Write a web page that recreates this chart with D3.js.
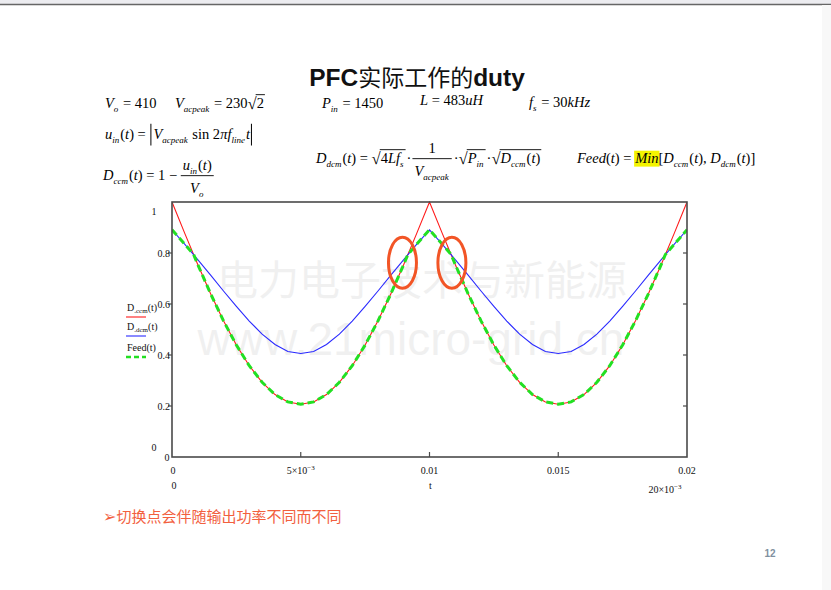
<!DOCTYPE html>
<html><head><meta charset="utf-8">
<script src="https://cdn.jsdelivr.net/npm/d3@7"></script>
<style>
html,body{margin:0;padding:0;background:#fff;}
svg{display:block;}
text{white-space:pre;}
</style></head>
<body>
<svg id="c" width="831" height="590"></svg>
<script>
// ---------- data ----------
const tSamples = [0,0.0005,0.001,0.0015,0.002,0.0025,0.003,0.0035,0.004,0.0045,0.005,0.0055,0.006,0.0065,0.007,0.0075,0.008,0.0085,0.009,0.0095,0.01,
  0.0105,0.011,0.0115,0.012,0.0125,0.013,0.0135,0.014,0.0145,0.015,0.0155,0.016,0.0165,0.017,0.0175,0.018,0.0185,0.019,0.0195,0.02];
const dccmValues = [1.000,0.876,0.755,0.640,0.534,0.439,0.358,0.293,0.245,0.216,0.207,0.216,0.245,0.293,0.358,0.439,0.534,0.640,0.755,0.876,1.000,
  0.876,0.755,0.640,0.534,0.439,0.358,0.293,0.245,0.216,0.207,0.216,0.245,0.293,0.358,0.439,0.534,0.640,0.755,0.876,1.000];
const ddcmValues = [0.891,0.834,0.774,0.713,0.651,0.591,0.533,0.482,0.441,0.414,0.406,0.414,0.441,0.482,0.533,0.591,0.651,0.713,0.774,0.834,0.891,
  0.834,0.774,0.713,0.651,0.591,0.533,0.482,0.441,0.414,0.406,0.414,0.441,0.482,0.533,0.591,0.651,0.713,0.774,0.834,0.891];
const feedT = [0,0.0005,0.00084,0.001,0.0015,0.002,0.0025,0.003,0.0035,0.004,0.0045,0.005,0.0055,0.006,0.0065,0.007,0.0075,0.008,0.0085,0.009,0.00916,0.0095,0.01,
  0.0105,0.01084,0.011,0.0115,0.012,0.0125,0.013,0.0135,0.014,0.0145,0.015,0.0155,0.016,0.0165,0.017,0.0175,0.018,0.0185,0.019,0.01916,0.0195,0.02];
const feedValues = [0.891,0.834,0.794,0.755,0.640,0.534,0.439,0.358,0.293,0.245,0.216,0.207,0.216,0.245,0.293,0.358,0.439,0.534,0.640,0.755,0.794,0.834,0.891,
  0.834,0.794,0.755,0.640,0.534,0.439,0.358,0.293,0.245,0.216,0.207,0.216,0.245,0.293,0.358,0.439,0.534,0.640,0.755,0.794,0.834,0.891];
const xTicks = [0.005,0.01,0.015];
const xTickLabels = [["0",0],["5×10","-3",0.005],["0.01",0.01],["0.015",0.015],["0.02",0.02]];
const yTicks = [0.2,0.4,0.6,0.8];
const yTickLabels = ["0.2","0.4","0.6","0.8"];
const highlightT = [0.00895,0.01087];
const highlightV = 0.762;
const legendNames = [["D","ccm"],["D","dcm"],["Feed",""]];
const seriesColors = ["#ff1a1a","#2a2aff","#22e022"];

// ---------- setup ----------
const svg = d3.select("#c");
const SERIF = "'Liberation Serif','Times New Roman',serif";
const SANS = "'Liberation Sans',Arial,sans-serif";
const CJK = "'Noto Sans CJK SC','Noto Sans',sans-serif";

svg.append("rect").attr("x",0).attr("y",0).attr("width",831).attr("height",590).attr("fill","#fff");
svg.append("rect").attr("x",0).attr("y",0).attr("width",831).attr("height",4).attr("fill","#ececf0");
svg.append("line").attr("x1",0).attr("x2",831).attr("y1",4.5).attr("y2",4.5).attr("stroke","#666").attr("stroke-width",1.3);
svg.append("rect").attr("x",822).attr("y",5).attr("width",9).attr("height",585).attr("fill","#f8f8f8");

// Title
const title = svg.append("text").attr("x",417).attr("y",86).attr("text-anchor","middle")
  .attr("font-size",24.5).attr("font-weight","bold").attr("font-family",SANS).attr("fill","#111");
title.append("tspan").text("PFC");
title.append("tspan").attr("font-family",CJK).attr("font-weight","normal").attr("font-size",23).text("实际工作的");
title.append("tspan").text("duty");

// ---------- math layout helper ----------
function T(s, o){ return Object.assign({type:"t", s:s}, o||{}); }
const I = s => T(s,{it:true});
const N = s => T(s,{});
const S = s => T(s,{it:true, sub:true});
const SP = w => ({type:"sp", w:w});
function layout(g, x, y, items, size){
  let cx = x;
  for (const it of items){
    if (it.type==="t"){
      const fs = it.sub ? size*0.62 : size;
      const dy = it.sub ? size*0.3 : 0;
      const el = g.append("text").attr("x",cx).attr("y",y+dy).attr("font-size",fs)
        .attr("font-family",SERIF).attr("font-style",it.it?"italic":"normal").attr("fill","#000").text(it.s);
      const w = el.node().getComputedTextLength();
      if (it.hl){
        g.insert("rect",()=>el.node()).attr("x",cx-1).attr("y",y-size*0.85).attr("width",w+2).attr("height",size*1.1).attr("fill","#f4f400");
      }
      cx += w + (it.sub?1:0);
    } else if (it.type==="sqrt"){
      const el = g.append("text").attr("x",cx).attr("y",y+1).attr("font-size",size*1.15).attr("font-family",SERIF).text("√");
      const w0 = el.node().getComputedTextLength();
      const start = cx + w0 - 1;
      const end = layout(g, start+1, y, it.c, size);
      g.append("line").attr("x1",start).attr("x2",end+1).attr("y1",y-size*0.92).attr("y2",y-size*0.92)
        .attr("stroke","#000").attr("stroke-width",0.9);
      cx = end + 2;
    } else if (it.type==="frac"){
      const gn = g.append("g"), gd = g.append("g");
      const wn = layout(gn,0,0,it.n,size);
      const wd = layout(gd,0,0,it.d,size);
      const w = Math.max(wn,wd)+4;
      gn.attr("transform",`translate(${cx+(w-wn)/2},${y-size*0.7})`);
      gd.attr("transform",`translate(${cx+(w-wd)/2},${y+size*0.9})`);
      g.append("line").attr("x1",cx).attr("x2",cx+w).attr("y1",y-size*0.3).attr("y2",y-size*0.3)
        .attr("stroke","#000").attr("stroke-width",0.9);
      cx += w + 2;
    } else if (it.type==="sp"){
      cx += it.w;
    } else if (it.type==="bar"){
      g.append("line").attr("x1",cx+1.5).attr("x2",cx+1.5).attr("y1",y-size*1.05).attr("y2",y+size*0.45)
        .attr("stroke","#000").attr("stroke-width",1);
      cx += 4;
    }
  }
  return cx;
}
const eq = svg.append("g");
const FS = 14.5;
layout(eq,105,108,[I("V"),S("o"),N(" = 410")],FS);
layout(eq,175,108,[I("V"),S("acpeak"),N(" = 230"),{type:"sqrt",c:[N("2")]}],FS);
layout(eq,322,108,[I("P"),S("in"),N(" = 1450")],FS);
layout(eq,420,105,[I("L"),N(" = 483"),I("uH")],FS);
layout(eq,529,107,[I("f"),S("s"),N(" = 30"),I("kHz")],FS);
layout(eq,105,139,[I("u"),S("in"),N("("),I("t"),N(") = "),{type:"bar"},I("V"),S("acpeak"),N(" sin 2"),I("πf"),S("line"),I("t"),{type:"bar"}],FS);
layout(eq,103,180,[I("D"),S("ccm"),N("("),I("t"),N(") = 1 − "),{type:"frac",n:[I("u"),S("in"),N("("),I("t"),N(")")],d:[I("V"),S("o")]}],FS);
layout(eq,316,163,[I("D"),S("dcm"),N("("),I("t"),N(") = "),{type:"sqrt",c:[N("4"),I("Lf"),S("s")]},N("·"),SP(1),
  {type:"frac",n:[N("1")],d:[I("V"),S("acpeak")]},N("·"),{type:"sqrt",c:[I("P"),S("in")]},N("·"),
  {type:"sqrt",c:[I("D"),S("ccm"),N("("),I("t"),N(")")]}],FS);
layout(eq,577,163,[I("Feed"),N("("),I("t"),N(") = "),T("Min",{it:true,hl:true}),N("["),I("D"),S("ccm"),N("("),I("t"),N("), "),
  I("D"),S("dcm"),N("("),I("t"),N(")]")],FS);

// ---------- chart ----------
const x = d3.scaleLinear().domain([0,0.02]).range([172,687]);
const y = d3.scaleLinear().domain([0,1]).range([457,202]);

// watermark
svg.append("text").attr("x",422).attr("y",295).attr("text-anchor","middle").attr("font-family",CJK)
  .attr("font-size",41).attr("fill","#000").attr("opacity",0.055).text("电力电子技术与新能源");
svg.append("text").attr("x",411).attr("y",355).attr("text-anchor","middle").attr("font-family",SANS)
  .attr("font-size",46).attr("fill","#000").attr("opacity",0.055).text("www.21micro-grid.cn");

svg.append("defs").append("clipPath").attr("id","clip").append("rect")
  .attr("x",172).attr("y",201).attr("width",515).attr("height",257);

const plot = svg.append("g").attr("clip-path","url(#clip)");
const line = d3.line().x(d=>x(d[0])).y(d=>y(d[1])).curve(d3.curveLinear);
plot.append("path").datum(tSamples.map((t,i)=>[t,dccmValues[i]])).attr("d",line)
  .attr("fill","none").attr("stroke",seriesColors[0]).attr("stroke-width",1.1);
plot.append("path").datum(tSamples.map((t,i)=>[t,ddcmValues[i]])).attr("d",line)
  .attr("fill","none").attr("stroke",seriesColors[1]).attr("stroke-width",1.1);
plot.append("path").datum(feedT.map((t,i)=>[t,feedValues[i]])).attr("d",line)
  .attr("fill","none").attr("stroke",seriesColors[2]).attr("stroke-width",3).attr("stroke-dasharray","7,4");

// frame
const axCol = "#4a4a4a";
svg.append("rect").attr("x",x(0)).attr("y",y(1)).attr("width",x(0.02)-x(0)).attr("height",y(0)-y(1))
  .attr("fill","none").attr("stroke",axCol).attr("stroke-width",1.6);
svg.append("g").selectAll("line").data(xTicks).join("line")
  .attr("x1",d=>x(d)).attr("x2",d=>x(d)).attr("y1",y(0)).attr("y2",y(0)-5).attr("stroke",axCol).attr("stroke-width",1.2);
svg.append("g").selectAll("line").data(yTicks).join("line")
  .attr("x1",x(0)-4).attr("x2",x(0)).attr("y1",d=>y(d)).attr("y2",d=>y(d)).attr("stroke",axCol).attr("stroke-width",1.2);
svg.append("g").selectAll("line").data(yTicks).join("line")
  .attr("x1",x(0.02)-4).attr("x2",x(0.02)).attr("y1",d=>y(d)).attr("y2",d=>y(d)).attr("stroke",axCol).attr("stroke-width",1.2);

const lab = svg.append("g").attr("font-family",SERIF).attr("font-size",10).attr("fill","#111");
lab.selectAll("text.yt").data(yTicks).join("text").attr("class","yt")
  .attr("x",x(0)-2).attr("y",d=>y(d)+3.5).attr("text-anchor","end").text((d,i)=>yTickLabels[i]);
lab.append("text").attr("x",154).attr("y",y(1)+13).attr("text-anchor","middle").text("1");
lab.append("text").attr("x",154).attr("y",y(0)-6).attr("text-anchor","middle").text("0");
lab.append("text").attr("x",x(0)-5).attr("y",y(0)+4).attr("text-anchor","middle").text("0");
xTickLabels.forEach(l=>{
  const v = l[l.length-1];
  const tx = lab.append("text").attr("x",x(v)+(v===0?1:0)).attr("y",474).attr("text-anchor","middle");
  tx.append("tspan").text(l[0]);
  if (l.length===3){ tx.append("tspan").attr("font-size",7).attr("dy",-4).text("−3"); }
});
lab.append("text").attr("x",x(0)+2).attr("y",489).attr("text-anchor","middle").text("0");
lab.append("text").attr("x",x(0.01)+1).attr("y",489).attr("text-anchor","middle").text("t");
const t20 = lab.append("text").attr("x",665).attr("y",493).attr("text-anchor","middle");
t20.append("tspan").text("20×10");
t20.append("tspan").attr("font-size",7).attr("dy",-4).text("−3");

// legend
const lg = svg.append("g").attr("font-family",SERIF).attr("font-size",10).attr("fill","#111");
legendNames.forEach((n,i)=>{
  const yy = [311,330,351][i];
  const tx = lg.append("text").attr("x",127).attr("y",yy);
  tx.append("tspan").text(n[0]);
  if (n[1]) { tx.append("tspan").attr("font-size",7).attr("dy",2).text("."+n[1]); tx.append("tspan").attr("dy",-2).text("(t)"); }
  else tx.append("tspan").text("(t)");
  const ly = yy+6;
  lg.append("line").attr("x1",126).attr("x2",146).attr("y1",ly).attr("y2",ly)
    .attr("stroke",seriesColors[i]).attr("stroke-width",i===2?2.6:1.1).attr("stroke-dasharray",i===2?"5,3":null);
});

// highlight ellipses
svg.append("g").selectAll("ellipse").data(highlightT).join("ellipse")
  .attr("cx",d=>x(d)).attr("cy",y(highlightV)).attr("rx",14).attr("ry",25.5)
  .attr("fill","none").attr("stroke","#f25526").attr("stroke-width",3);

// bottom note
const note = svg.append("text").attr("x",103).attr("y",522).attr("font-size",15).attr("fill","#f2603e").attr("font-family",CJK);
note.append("tspan").attr("font-family","'DejaVu Sans',sans-serif").attr("font-size",16).text("➢");
note.append("tspan").text("切换点会伴随输出功率不同而不同");

// page number
svg.append("text").attr("x",770).attr("y",557).attr("text-anchor","middle").attr("font-family",SANS)
  .attr("font-size",10).attr("font-weight","bold").attr("fill","#8090a0").text("12");
</script>
</body></html>
